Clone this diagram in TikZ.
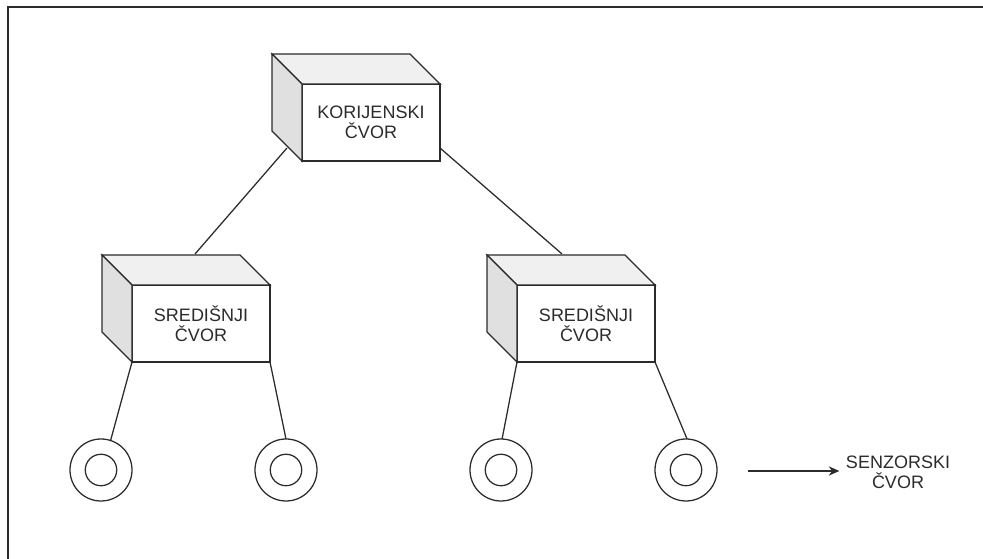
\documentclass[tikz,border=0pt]{standalone}
\usepackage{fontspec}
\setmainfont{Liberation Sans}
\usetikzlibrary{%
    arrows.meta,
    calc,
    positioning
}
\definecolor{linegray}{HTML}{2B2B2B}
\definecolor{topgray}{HTML}{F0F0F0}
\definecolor{sidegray}{HTML}{E0E0E0}
\tikzset{headarrow/.style = {-{Stealth[length=8pt,width=7pt]}}}

\begin{document}
\begin{tikzpicture}[x=0.75pt, y=0.75pt,
    line width=0.95pt, draw=linegray,
    front/.style = {draw, fill=white, minimum width=103.5pt, minimum height=57.75pt,
        inner sep=0pt, outer sep=0pt, align=center, text=linegray,
        font=\fontsize{13.5}{15}\selectfont},
    sensor/.style = {draw, circle, minimum size=46.5pt, inner sep=0pt, outer sep=0pt,
        path picture={\draw[line width=0.95pt, linegray]
            (path picture bounding box.center) circle (11.8pt);}},
    label/.style = {align=center, inner sep=4.5pt, text=linegray,
        font=\fontsize{13.5}{15}\selectfont}]
    \clip (0,0) rectangle (983,559);
    \draw (8,552) rectangle (995,-10);

    \node[front] (root) at (371,436.5) {KORIJENSKI\\ČVOR};
    \node[front] (midL) at (201,235.5) {SREDIŠNJI\\ČVOR};
    \node[front] (midR) at (586,235.5) {SREDIŠNJI\\ČVOR};

    % cube faces
    \foreach \n in {root,midL,midR} {
        \draw[fill=topgray] (\n.north west) -- ++(-30,30) -- ($(\n.north east)+(-30,30)$)
            -- (\n.north east) -- cycle;
        \draw[fill=sidegray] (\n.north west) -- ++(-30,30) -- ($(\n.south west)+(-30,30)$)
            -- (\n.south west) -- cycle;
    }

    \node[sensor] (s1) at (101,89) {};
    \node[sensor] (s2) at (286,89) {};
    \node[sensor] (s3) at (501,89) {};
    \node[sensor] (s4) at (686,89) {};

    \draw ($(root.south west)+(-15,13)$) to ($(midL.north west)+(63,31)$);
    \draw ($(root.south east)+(0,13)$) to ($(midR.north west)+(45,31)$);

    \draw (midL.south west) to (s1.72);
    \draw (midL.south east) to (s2.90);
    \draw (midR.south west) to (s3.88);
    \draw (midR.south east) to (s4.88);

    \coordinate (legend) at (748,88);
    \node[label] (sensorlabel) at (898,87) {SENZORSKI\\ČVOR};
    \draw[headarrow] (legend) to (sensorlabel.west |- legend);
\end{tikzpicture}
\end{document}
